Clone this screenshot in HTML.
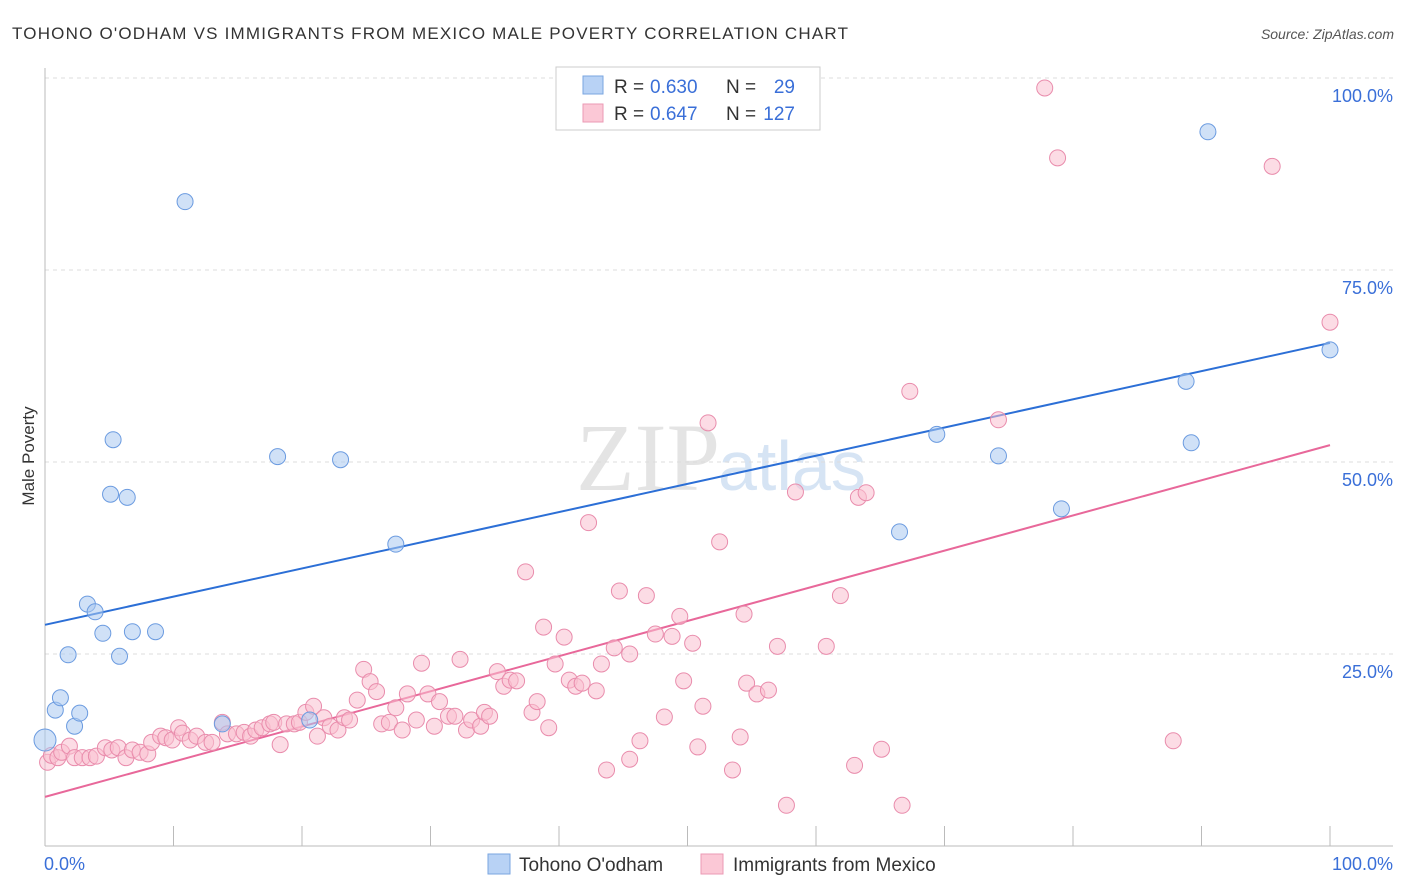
<!DOCTYPE html>
<html><head><meta charset="utf-8"><style>
body{margin:0;background:#fff;font-family:"Liberation Sans",sans-serif;}
svg{display:block}
</style></head><body>
<svg id="chart" width="1406" height="892" xmlns="http://www.w3.org/2000/svg">
<text x="12" y="39" font-size="17" fill="#333" textLength="836" lengthAdjust="spacing">TOHONO O'ODHAM VS IMMIGRANTS FROM MEXICO MALE POVERTY CORRELATION CHART</text>
<text x="1394" y="39" font-size="14" fill="#555" text-anchor="end" font-style="italic">Source: ZipAtlas.com</text>
<text x="34" y="456" font-size="17" fill="#333" text-anchor="middle" transform="rotate(-90 34 456)">Male Poverty</text>
<text x="720" y="490" font-size="96" fill="#e4e4e4" text-anchor="end" font-family="Liberation Serif">ZIP</text>
<text x="718" y="490" font-size="70" fill="#d6e4f4">atlas</text>
<g id="grid"></g><g id="axes"></g><g id="lines"></g><g id="pts"></g>
<g>
<rect x="556" y="67" width="264" height="63" fill="#fff" stroke="#ccc"/>
<rect x="583" y="76" width="20" height="18" fill="#b8d2f5" stroke="#7aa6e0"/>
<rect x="583" y="104" width="20" height="18" fill="#fbc8d6" stroke="#eb9ab4"/>
<text x="614" y="93" font-size="19" fill="#333">R =</text>
<text x="650" y="93" font-size="19" fill="#3a6fd8">0.630</text>
<text x="726" y="93" font-size="19" fill="#333">N =</text>
<text x="795" y="93" font-size="19" fill="#3a6fd8" text-anchor="end">29</text>
<text x="614" y="120" font-size="19" fill="#333">R =</text>
<text x="650" y="120" font-size="19" fill="#3a6fd8">0.647</text>
<text x="726" y="120" font-size="19" fill="#333">N =</text>
<text x="795" y="120" font-size="19" fill="#3a6fd8" text-anchor="end">127</text>
</g>
<g>
<rect x="488" y="854" width="22" height="20" fill="#b8d2f5" stroke="#7aa6e0"/>
<text x="519" y="871" font-size="19" fill="#333">Tohono O'odham</text>
<rect x="701" y="854" width="22" height="20" fill="#fbc8d6" stroke="#eb9ab4"/>
<text x="733" y="871" font-size="19" fill="#333">Immigrants from Mexico</text>
</g>
</svg>
<script>
const xTicks=[0,10,20,30,40,50,60,70,80,90,100];
const yTicks=[25,50,75,100];
const blueX=[0,0.8,1.2,1.8,2.3,2.7,3.3,3.9,4.5,5.1,5.3,5.8,6.4,6.8,8.6,10.9,13.8,18.1,20.6,23.0,27.3,66.5,69.4,74.2,79.1,88.8,89.2,90.5,100];
const blueY=[13.8,17.7,19.3,24.9,15.6,17.3,31.5,30.5,27.7,45.8,52.9,24.7,45.4,27.9,27.9,83.9,15.9,50.7,16.4,50.3,39.3,40.9,53.6,50.8,43.9,60.5,52.5,93.0,64.6];
const pinkX=[0.2,0.5,1.0,1.3,1.9,2.3,2.9,3.5,4.0,4.7,5.2,5.7,6.3,6.8,7.4,8.0,8.3,9.0,9.4,9.9,10.4,10.7,11.3,11.8,12.5,13.0,13.8,14.2,14.9,15.5,16.0,16.4,16.9,17.5,17.8,18.3,18.8,19.4,19.8,20.3,20.9,21.2,21.7,22.2,22.8,23.3,23.7,24.3,24.8,25.3,25.8,26.2,26.8,27.3,27.8,28.2,28.9,29.3,29.8,30.3,30.7,31.4,31.9,32.3,32.8,33.2,33.9,34.2,34.6,35.2,35.7,36.2,36.7,37.4,37.9,38.3,38.8,39.2,39.7,40.4,40.8,41.3,41.8,42.3,42.9,43.3,43.7,44.3,44.7,45.5,45.5,46.3,46.8,47.5,48.2,48.8,49.4,49.7,50.4,50.8,51.2,51.6,52.5,53.5,54.1,54.4,54.6,55.4,56.3,57.0,57.7,58.4,60.8,61.9,63.0,63.3,63.9,65.1,66.7,67.3,74.2,77.8,78.8,87.8,95.5,100];
const pinkY=[10.9,11.8,11.5,12.2,13.0,11.5,11.5,11.5,11.7,12.8,12.5,12.8,11.5,12.5,12.2,12.0,13.5,14.3,14.1,13.8,15.4,14.7,13.8,14.3,13.5,13.5,16.1,14.6,14.6,14.8,14.3,15.1,15.4,15.9,16.1,13.2,15.9,15.9,16.1,17.4,18.2,14.3,16.7,15.6,15.1,16.7,16.4,19.0,23.0,21.4,20.1,15.9,16.1,18.0,15.1,19.8,16.4,23.8,19.8,15.6,18.8,16.9,16.9,24.3,15.1,16.4,15.6,17.4,16.9,22.7,20.8,21.6,21.5,35.7,17.4,18.8,28.5,15.4,23.7,27.2,21.6,20.8,21.2,42.1,20.2,23.7,9.9,25.8,33.2,11.3,25.0,13.7,32.6,27.6,16.8,27.3,29.9,21.5,26.4,12.9,18.2,55.1,39.6,9.9,14.2,30.2,21.2,19.8,20.3,26.0,5.3,46.1,26.0,32.6,10.5,45.4,46.0,12.6,5.3,59.2,55.5,98.7,89.6,13.7,88.5,68.2];
const blueLine=[28.8,65.5];
const pinkLine=[6.4,52.2];
const NS='http://www.w3.org/2000/svg';
const sx=v=>45+v*12.85, sy=v=>846-v*7.68;
function mk(tag,attrs,parent){const e=document.createElementNS(NS,tag);for(const k in attrs)e.setAttribute(k,attrs[k]);document.getElementById(parent).appendChild(e);return e;}
yTicks.forEach(t=>{
 const g=mk('line',{x1:45,x2:1393,y1:sy(t),y2:sy(t),stroke:'#ddd','stroke-dasharray':'4,4'},'grid');
 
 
 const l=mk('text',{x:1393,y:sy(t)+24,'font-size':18,fill:'#3a6fd8','text-anchor':'end'},'grid');
 l.textContent=t.toFixed(1)+'%';
 
 
});
const ya=mk('line',{x1:45,x2:45,y1:68,y2:846,stroke:'#bbb'},'axes');


const xa=mk('line',{x1:45,x2:1393,y1:846,y2:846,stroke:'#bbb'},'axes');


xTicks.forEach(t=>{
 const tk=mk('line',{x1:sx(t),x2:sx(t),y1:826,y2:846,stroke:'#bbb'},'axes');
 
 
});
[[0,'start'],[100,'end']].forEach(([t,a])=>{
 const l=mk('text',{x:t==0?44:1393,y:870,'font-size':18,fill:'#3a6fd8','text-anchor':a},'axes');
 l.textContent=t.toFixed(1)+'%';
 
 
});
function pts(X,Y,fill,stroke,name){X.forEach((x,i)=>{
 const c=mk('circle',{cx:sx(x),cy:sy(Y[i]),r:x===0?11:8,fill:fill,'fill-opacity':0.55,stroke:stroke,'stroke-width':1},'pts');
 
 
});}
pts(pinkX,pinkY,'#f9c0d0','#e98cac','point-mexico');
pts(blueX,blueY,'#a9c8f0','#6b9be0','point-tohono');
const bl=mk('line',{x1:sx(0),y1:sy(blueLine[0]),x2:sx(100),y2:sy(blueLine[1]),stroke:'#2c6fd6','stroke-width':2},'lines');


const pl=mk('line',{x1:sx(0),y1:sy(pinkLine[0]),x2:sx(100),y2:sy(pinkLine[1]),stroke:'#e8689a','stroke-width':2},'lines');


</script>
</body></html>
